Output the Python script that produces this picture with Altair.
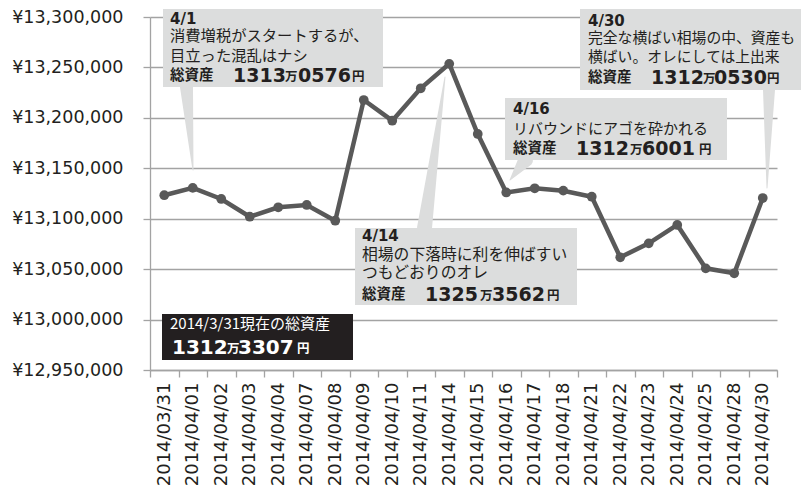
import altair as alt
import pandas as pd

# ---- data ----
dates = ['2014/03/31', '2014/04/01', '2014/04/02', '2014/04/03', '2014/04/04',
         '2014/04/07', '2014/04/08', '2014/04/09', '2014/04/10', '2014/04/11',
         '2014/04/14', '2014/04/15', '2014/04/16', '2014/04/17', '2014/04/18',
         '2014/04/21', '2014/04/22', '2014/04/23', '2014/04/24', '2014/04/25',
         '2014/04/28', '2014/04/30']
assets = [13123307, 13130576, 13119550, 13102000, 13111300,
          13113600, 13098000, 13217700, 13197200, 13229300,
          13253562, 13184000, 13126001, 13130150, 13127800,
          13121800, 13061700, 13075600, 13093800, 13050800,
          13045900, 13120530]
y_ticks = [12950000, 13000000, 13050000, 13100000, 13150000,
           13200000, 13250000, 13300000]

DARK = '#231f20'
GRAY = '#a3a3a3'
BOX = '#dcdddd'
LINE = '#595959'

PAD_L, PAD_T = 150, 17

# ---- annotation layout (page pixels) ----
box_x1 = [163, 355, 505, 580, 162]
box_x2 = [383, 577, 727, 801, 353]
box_y1 = [9, 228, 98, 9, 314]
box_y2 = [87, 305, 160, 90, 360]
box_fill = [BOX, BOX, BOX, BOX, DARK]

ptr_id = ['a', 'a', 'b', 'b', 'c', 'c', 'd', 'd']
ptr_x = [186.5, 193, 424.5, 445, 525.5, 510, 769, 767]
ptr_y = [87, 170, 228, 77, 160, 180, 90, 188]
ptr_w = [13, 0, 15, 0, 15, 0, 12, 0]
ptr_k = [0, 1, 0, 1, 0, 1, 0, 1]

# Latin bold (DejaVu Sans Bold)
lat_t = ['4/1', '4/14', '4/16', '4/30',
         '1313', '0576', '1325', '3562', '1312', '6001', '1312', '0530',
         '1312', '3307']
lat_x = [170, 362, 513, 588, 233, 298, 425, 492, 576, 642, 651, 714, 172, 238]
lat_y = [19, 236, 108.5, 20.5, 75.5, 75.5, 294.5, 294.5, 148.5, 148.5, 77.5, 77.5, 347.5, 347.5]
lat_s = [15, 15, 15, 15, 19, 19, 19, 19, 19, 19, 19, 19, 20, 20]
lat_c = [DARK] * 12 + ['#ffffff'] * 2

# CJK regular
jr_t = ['消費増税がスタートするが、', '目立った混乱はナシ',
        '相場の下落時に利を伸ばすい', 'つもどおりのオレ',
        'リバウンドにアゴを砕かれる',
        '完全な横ばい相場の中、資産も', '横ばい。オレにしては上出来',
        '2014/3/31現在の総資産']
jr_x = [170, 170, 362, 362, 513, 588, 588, 170]
jr_y = [36, 55.5, 255, 273, 128.5, 39, 57.5, 324]
jr_s = [15.3, 15.3, 15.8, 15.8, 15, 14.8, 14.8, 15]
jr_c = [DARK] * 7 + ['#ffffff']

# CJK bold
jb_t = ['総資産', '総資産', '総資産', '総資産',
        '万', '円', '万', '円', '万', '円', '万', '円', '万', '円']
jb_x = [170, 362, 513, 588, 285, 352, 480, 547, 630, 699, 703, 767, 227, 297]
jb_y = [75.5, 294.5, 148.5, 77.5, 77, 77, 296, 296, 150, 150, 79, 79, 349, 349]
jb_s = [14.5, 14.5, 14.5, 14.5] + [12.5] * 10
jb_c = [DARK] * 12 + ['#ffffff'] * 2


def sx(v):
    return [a - PAD_L for a in v]


def sy(v):
    return [a - PAD_T for a in v]


# ---- frames ----
df = pd.DataFrame({'date': dates, 'value': assets})
boxes = pd.DataFrame({'x1': sx(box_x1), 'x2': sx(box_x2), 'y1': sy(box_y1),
                      'y2': sy(box_y2), 'f': box_fill})
ptrs = pd.DataFrame({'id': ptr_id, 'px': sx(ptr_x), 'py': sy(ptr_y), 'w': ptr_w, 'k': ptr_k})
lat = pd.DataFrame({'t': lat_t, 'x': sx(lat_x), 'y': sy(lat_y), 's': lat_s, 'c': lat_c})
jr = pd.DataFrame({'t': jr_t, 'x': sx(jr_x), 'y': sy(jr_y), 's': jr_s, 'c': jr_c})
jb = pd.DataFrame({'t': jb_t, 'x': sx(jb_x), 'y': sy(jb_y), 's': jb_s, 'c': jb_c})

# ---- main chart ----
line = alt.Chart(df).mark_line(
    color=LINE, strokeWidth=4.5,
    point=alt.OverlayMarkDef(filled=True, size=95, color=LINE, opacity=1)
).encode(
    x=alt.X('date:O', sort=None,
            scale=alt.Scale(type='band', paddingInner=0, paddingOuter=0),
            axis=alt.Axis(title=None, labelAngle=-90, tickBand='extent', grid=False,
                          domainColor=GRAY, tickColor=GRAY, tickSize=7, domainWidth=1.3,
                          tickWidth=1.3, labelFont='DejaVu Sans', labelFontSize=18,
                          labelColor=DARK, labelPadding=5)),
    y=alt.Y('value:Q',
            scale=alt.Scale(domain=[12950000, 13300000], nice=False, zero=False),
            axis=alt.Axis(title=None, values=y_ticks,
                          labelExpr="'¥' + format(datum.value, ',')",
                          grid=True, gridColor=GRAY, gridWidth=1.3,
                          domainColor=GRAY, domainWidth=1.3, tickColor=GRAY,
                          tickWidth=1.3, tickSize=7, labelFont='DejaVu Sans',
                          labelFontSize=17.5, labelColor=DARK, labelPadding=20)),
)


def px(field):
    return alt.X(field, scale=None, axis=None)


def py(field):
    return alt.Y(field, scale=None, axis=None)


box_layer = alt.Chart(boxes).mark_rect().encode(
    x=px('x1:Q'), x2='x2:Q', y=py('y1:Q'), y2='y2:Q',
    color=alt.Color('f:N', scale=None))

ptr_layer = alt.Chart(ptrs).mark_trail(color=BOX).encode(
    x=px('px:Q'), y=py('py:Q'),
    size=alt.Size('w:Q', scale=None, legend=None),
    detail='id:N', order='k:Q')


def text_layer(d, font, weight):
    return alt.Chart(d).mark_text(align='left', baseline='middle', font=font,
                                  fontWeight=weight).encode(
        x=px('x:Q'), y=py('y:Q'), text='t:N',
        size=alt.Size('s:Q', scale=None, legend=None),
        color=alt.Color('c:N', scale=None))


chart = alt.layer(
    box_layer, ptr_layer, line,
    text_layer(lat, 'DejaVu Sans', 'bold'),
    text_layer(jr, 'Noto Sans CJK JP', 'normal'),
    text_layer(jb, 'Noto Sans CJK JP', 'bold'),
).resolve_scale(
    x='independent', y='independent', size='independent', color='independent'
).properties(
    width=627, height=353,
    autosize=alt.AutoSizeParams(type='none'),
    padding={'left': PAD_L, 'top': PAD_T, 'right': 24, 'bottom': 122},
    background='white'
).configure_view(stroke=None)

chart.save('out.html', embed_options={'renderer': 'svg', 'actions': False})
